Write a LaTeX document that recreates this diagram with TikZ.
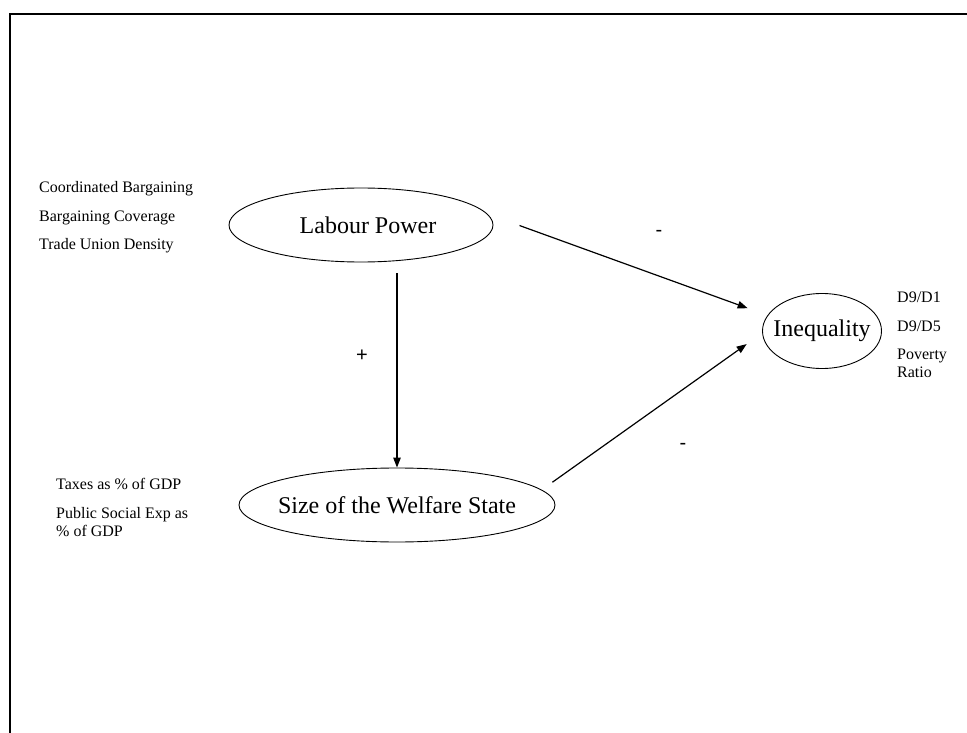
\documentclass[tikz,border=0pt]{standalone}
\usepackage{fontspec}
\setmainfont{Liberation Serif}
\newfontfamily\signfont{Liberation Sans}
\usetikzlibrary{shapes.geometric,arrows.meta}

\tikzset{
	construct/.style={draw, ellipse, line width=0.9pt, inner sep=0pt, font=\fontsize{24}{28}\selectfont},
	indicator/.style={anchor=base west, inner sep=0pt, align=left, font=\fontsize{16}{17.5}\selectfont},
	sign/.style={inner sep=0pt, font=\signfont\fontsize{20}{22}\selectfont},
	effect/.style={-{Triangle[length=10pt,width=7.5pt]}, line width=1.2pt},
}

\begin{document}
\begin{tikzpicture}[x=1pt, y=-1pt]
	\useasboundingbox (0,0) rectangle (967,733);
	\draw[line width=2.6pt] (10,733) -- (10,14) -- (967,14);

	% the ellipses keep their own size, the text does not widen them
	\node[construct, minimum width=264pt, minimum height=74pt] (labour) at (361,225) {\makebox[0pt]{\hspace{14pt}Labour Power}};
	\node[construct, minimum width=316pt, minimum height=74pt] (welfare) at (397,505) {\makebox[0pt]{Size of the Welfare State}};
	\node[construct, minimum width=119pt, minimum height=75pt] (ineq) at (822,331) {\makebox[0pt]{Inequality}};

	\node[indicator] (coord) at (39,193) {Coordinated Bargaining};
	\node[indicator] (cover) at (39,221) {Bargaining Coverage};
	\node[indicator] (union) at (39,249) {Trade Union Density};
	\node[indicator] (taxes) at (56,489) {Taxes as \% of GDP};
	\node[indicator] (social) at (56,536) {Public Social Exp as\\\% of GDP};
	\node[indicator] (dnine) at (897,302) {D9/D1};
	\node[indicator] (dfive) at (897,331) {D9/D5};
	\node[indicator] (poverty) at (897,377) {Poverty\\Ratio};

	\draw[effect, shorten <=11pt] (labour.south -| welfare.north) -- (welfare.north);
	\draw[effect, shorten <=34pt, shorten >=21pt] (labour.5) -- (ineq.164);
	\draw[effect, shorten <=13pt, shorten >=19pt] (welfare.6) -- (ineq.182);

	\node[sign] (plus) at (362,356) {+};
	\node[sign] (minustop) at (659,233) {-};
	\node[sign] (minusbot) at (683,446) {-};
\end{tikzpicture}
\end{document}
